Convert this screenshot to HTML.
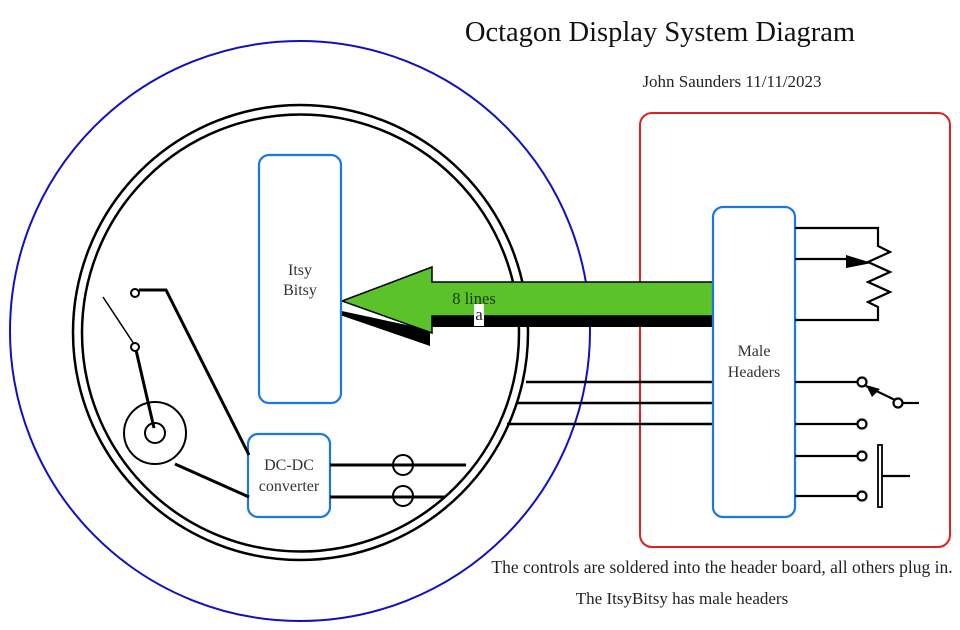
<!DOCTYPE html>
<html><head><meta charset="utf-8"><style>
html,body{margin:0;padding:0;background:#fff;}
svg{display:block;}
text{font-family:"Liberation Serif",serif;}
</style></head><body>
<svg width="960" height="630" viewBox="0 0 960 630" xmlns="http://www.w3.org/2000/svg">
<rect width="960" height="630" fill="#fff"/>
<text x="660" y="41" font-size="28.5" text-anchor="middle" fill="#111">Octagon Display System Diagram</text>
<text x="732" y="87" font-size="17" text-anchor="middle" fill="#222">John Saunders 11/11/2023</text>
<text x="722" y="573" font-size="17.5" text-anchor="middle" fill="#222">The controls are soldered into the header board, all others plug in.</text>
<text x="682" y="604" font-size="17" text-anchor="middle" fill="#222">The ItsyBitsy has male headers</text>

<circle cx="300" cy="331" r="290" fill="none" stroke="#1010c0" stroke-width="2"/>
<circle cx="300.5" cy="332.5" r="227.5" fill="none" stroke="#000" stroke-width="2.5"/>
<circle cx="300.5" cy="333" r="218.5" fill="none" stroke="#000" stroke-width="2.5"/>

<rect x="640" y="113" width="310" height="434" rx="12" fill="none" stroke="#e02020" stroke-width="2"/>

<g stroke="#000" stroke-width="2.5" fill="none">
<line x1="526" y1="382" x2="713" y2="382"/>
<line x1="516" y1="403" x2="713" y2="403"/>
<line x1="507" y1="424" x2="713" y2="424"/>
</g>

<polygon points="337,310 430,330 430,346 337,314" fill="#000"/>
<rect x="430" y="305" width="283" height="22" fill="#000"/>
<polygon points="342,301 432,267 432,282 713,282 713,316 432,316 432,333" fill="#5cc22a" stroke="#000" stroke-width="1.5"/>
<text x="474" y="304" font-size="16.5" text-anchor="middle" fill="#1a3a10">8 lines</text>
<rect x="474" y="304" width="10" height="22" fill="#fff"/>
<text x="479" y="320" font-size="17" text-anchor="middle" fill="#222">a</text>

<rect x="259" y="155" width="82" height="248" rx="10" fill="#fff" stroke="#1a78e0" stroke-width="2.2"/>
<text x="300" y="275" font-size="16" text-anchor="middle" fill="#333">Itsy</text>
<text x="300" y="295" font-size="16" text-anchor="middle" fill="#333">Bitsy</text>
<rect x="248" y="434" width="82" height="83" rx="10" fill="#fff" stroke="#1a78e0" stroke-width="2.2"/>
<text x="289" y="470" font-size="16" text-anchor="middle" fill="#333">DC-DC</text>
<text x="289" y="491" font-size="16" text-anchor="middle" fill="#333">converter</text>
<rect x="713" y="207" width="82" height="310" rx="10" fill="#fff" stroke="#1a78e0" stroke-width="2.2"/>
<text x="754" y="356" font-size="16" text-anchor="middle" fill="#333">Male</text>
<text x="754" y="377" font-size="16" text-anchor="middle" fill="#333">Headers</text>

<g stroke="#000" fill="none">
<line x1="103" y1="297" x2="134" y2="344" stroke-width="1.5"/>
<circle cx="135" cy="293" r="4" stroke-width="2"/>
<polyline points="139,290 166,290 249,455" stroke-width="3"/>
<circle cx="135" cy="347" r="4" stroke-width="2"/>
<line x1="136" y1="350" x2="154" y2="428" stroke-width="3"/>
<circle cx="155" cy="433" r="31" stroke-width="2"/>
<circle cx="155" cy="433" r="10" stroke-width="2"/>
<line x1="175" y1="464" x2="249" y2="497" stroke-width="3"/>
<line x1="330" y1="465" x2="466" y2="465" stroke-width="3"/>
<line x1="330" y1="497" x2="445" y2="497" stroke-width="3"/>
<circle cx="403" cy="465" r="10" stroke-width="2"/>
<circle cx="403" cy="496" r="10" stroke-width="2"/>
</g>

<g stroke="#000" stroke-width="2.2" fill="none">
<polyline points="795,228 878,228 878,246 890,252 868,262 890,272 868,282 890,292 868,302 878,307 878,320 795,320"/>
<line x1="795" y1="259" x2="848" y2="259"/>
<line x1="795" y1="382" x2="858" y2="382"/>
<circle cx="862" cy="382" r="4.5"/>
<line x1="866" y1="386" x2="895" y2="400"/>
<circle cx="898" cy="403" r="4.5"/>
<line x1="903" y1="403" x2="919" y2="403"/>
<line x1="795" y1="424" x2="857" y2="424"/>
<circle cx="862" cy="424" r="4.5"/>
<line x1="795" y1="456" x2="857" y2="456"/>
<circle cx="862" cy="456" r="4.5"/>
<line x1="795" y1="496" x2="857" y2="496"/>
<circle cx="862" cy="496" r="4.5"/>
<rect x="878" y="445" width="4" height="62" stroke-width="1.8"/>
<line x1="882" y1="476" x2="910" y2="476"/>
</g>
<polygon points="846,255 872,263 846,268" fill="#000"/>
<polygon points="866,385 880,389 872,397" fill="#000"/>
</svg>
</body></html>
